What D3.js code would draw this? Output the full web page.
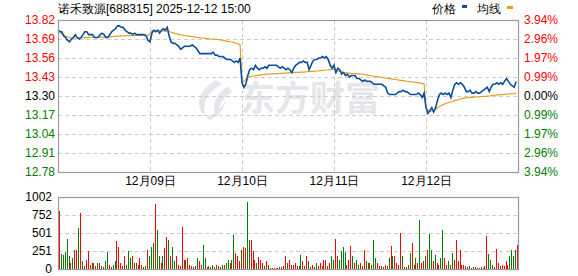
<!DOCTYPE html>
<html><head><meta charset="utf-8">
<script src="https://cdn.jsdelivr.net/npm/d3@7"></script>
<style>
html,body{margin:0;padding:0;background:#fff;}
svg{display:block;font-family:"Liberation Sans",Arial,sans-serif;}
</style></head>
<body>
<svg id="c" width="578" height="276"></svg>
<script>
const title = "诺禾致源[688315] 2025-12-12 15:00";
const legendNames = ["价格", "均线"];
const dayLabels = ["12月09日", "12月10日", "12月11日", "12月12日"];
const priceTicks = [13.82, 13.69, 13.56, 13.43, 13.30, 13.17, 13.04, 12.91, 12.78];
const pctTicks = ["3.94%", "2.96%", "1.97%", "0.99%", "0.00%", "0.99%", "1.97%", "2.96%", "3.94%"];
const volTicks = [0, 251, 501, 752, 1002];
const prevClose = 13.30;
const pointsPerDay = 48;

const price = [
 13.75,13.74,13.74,13.71,13.70,13.68,13.67,13.69,13.70,13.72,13.70,13.69,13.70,13.72,13.74,13.74,13.72,13.72,13.72,13.70,13.70,13.70,13.72,13.73,13.72,13.70,13.70,13.72,13.74,13.75,13.76,13.78,13.78,13.77,13.77,13.75,13.74,13.73,13.73,13.72,13.73,13.72,13.72,13.72,13.72,13.72,13.71,13.68,
 13.67,13.73,13.75,13.74,13.75,13.73,13.75,13.76,13.75,13.77,13.71,13.67,13.66,13.66,13.65,13.64,13.62,13.63,13.64,13.64,13.64,13.64,13.65,13.64,13.63,13.61,13.59,13.59,13.59,13.59,13.59,13.59,13.59,13.60,13.58,13.58,13.57,13.57,13.57,13.56,13.55,13.55,13.55,13.54,13.53,13.54,13.53,13.56,
 13.39,13.36,13.38,13.44,13.48,13.49,13.48,13.51,13.49,13.48,13.49,13.49,13.50,13.49,13.51,13.51,13.51,13.51,13.51,13.50,13.49,13.50,13.49,13.48,13.49,13.48,13.46,13.49,13.51,13.52,13.53,13.53,13.54,13.53,13.53,13.48,13.51,13.54,13.55,13.55,13.56,13.56,13.57,13.56,13.57,13.55,13.51,13.49,
 13.51,13.46,13.49,13.48,13.45,13.46,13.44,13.45,13.43,13.44,13.44,13.44,13.42,13.42,13.41,13.40,13.41,13.40,13.40,13.40,13.39,13.38,13.38,13.38,13.38,13.38,13.37,13.36,13.32,13.31,13.31,13.31,13.31,13.32,13.33,13.33,13.34,13.33,13.33,13.32,13.31,13.31,13.31,13.31,13.32,13.31,13.29,13.32,
 13.22,13.18,13.20,13.22,13.19,13.22,13.27,13.31,13.32,13.31,13.32,13.31,13.32,13.29,13.34,13.38,13.39,13.38,13.39,13.38,13.36,13.33,13.33,13.34,13.32,13.32,13.33,13.32,13.32,13.33,13.34,13.35,13.36,13.33,13.36,13.38,13.38,13.39,13.38,13.39,13.38,13.40,13.42,13.40,13.38,13.37,13.36,13.40
];

const avgPrice = [
 13.752,13.735,13.725,13.717,13.710,13.704,13.700,13.697,13.697,13.697,13.697,13.697,13.697,13.698,13.699,13.700,13.701,13.702,13.702,13.702,13.702,13.702,13.703,13.703,13.703,13.704,13.704,13.705,13.706,13.707,13.708,13.709,13.710,13.711,13.712,13.712,13.713,13.713,13.713,13.713,13.713,13.714,13.714,13.714,13.714,13.714,13.714,13.714,
 13.730,13.745,13.747,13.747,13.746,13.745,13.745,13.745,13.744,13.743,13.740,13.736,13.732,13.728,13.725,13.722,13.719,13.717,13.714,13.712,13.710,13.708,13.706,13.704,13.702,13.700,13.699,13.697,13.695,13.694,13.692,13.691,13.690,13.689,13.688,13.687,13.685,13.683,13.681,13.679,13.676,13.674,13.671,13.669,13.665,13.661,13.657,13.652,
 13.390,13.400,13.415,13.425,13.432,13.435,13.437,13.439,13.441,13.443,13.445,13.446,13.448,13.449,13.450,13.451,13.452,13.452,13.453,13.454,13.455,13.455,13.456,13.457,13.458,13.458,13.459,13.460,13.461,13.461,13.462,13.463,13.464,13.465,13.466,13.467,13.468,13.469,13.470,13.471,13.472,13.474,13.475,13.476,13.478,13.479,13.481,13.483,
 13.485,13.478,13.472,13.468,13.465,13.462,13.460,13.458,13.457,13.455,13.454,13.453,13.452,13.451,13.450,13.449,13.447,13.444,13.441,13.439,13.437,13.435,13.433,13.431,13.429,13.427,13.425,13.423,13.421,13.419,13.417,13.415,13.413,13.411,13.409,13.407,13.405,13.403,13.401,13.399,13.397,13.396,13.394,13.392,13.390,13.388,13.386,13.384,
 13.220,13.200,13.195,13.197,13.200,13.210,13.220,13.228,13.235,13.241,13.247,13.252,13.256,13.259,13.263,13.268,13.272,13.276,13.280,13.284,13.286,13.288,13.289,13.290,13.291,13.292,13.293,13.294,13.295,13.296,13.297,13.298,13.299,13.300,13.302,13.304,13.306,13.307,13.308,13.309,13.310,13.311,13.312,13.313,13.314,13.315,13.316,13.318
];

const volume = [
 805,210,200,230,414,184,80,150,258,267,566,773,105,40,129,244,50,80,80,40,80,80,40,30,105,240,60,30,50,105,396,313,90,40,175,60,244,152,175,80,80,60,152,60,30,40,258,175,
 313,359,911,543,175,80,175,290,441,405,175,313,105,175,60,40,580,129,129,152,60,40,30,40,152,105,60,336,152,30,40,30,60,30,60,40,30,60,60,80,130,80,130,474,220,175,105,267,
 313,290,934,405,405,244,129,80,165,129,80,40,105,60,20,20,20,20,20,30,30,40,175,80,129,60,50,80,40,40,198,105,40,184,105,30,60,30,80,40,80,40,129,129,40,80,184,129,
 414,175,129,244,313,230,60,129,322,175,80,129,60,80,40,267,105,80,80,60,405,152,80,40,40,30,60,40,152,322,175,175,80,60,497,175,30,30,60,220,359,60,152,80,681,80,105,175,
 267,483,267,105,198,80,60,152,543,152,60,105,60,220,129,405,105,267,60,60,40,30,40,20,30,30,20,20,30,20,40,460,212,129,60,30,285,80,40,60,40,105,60,175,267,184,258,336
];
const volDir = (
 "rgggggrgrr"+"grgrrrrrgr"+"grgrggrrgg"+"rrrrrgggrg"+"rgrrrgrg"+
 "ggrggrgrrg"+"rggrrrrrgr"+"rrgrgrrggr"+"rggrrgrgrg"+"grggrrrg"+
 "rrggrrrgrr"+"rgrgrrrrrr"+"grrgrrrrrg"+"grrrgrrggr"+"rrrrgrgg"+
 "rrggggrrrg"+"rggrrrggrg"+"ggrrrgrrgr"+"grrrrgrgrg"+"rrgrgrrg"+
 "rggrgrrggr"+"rgrgrrrrrr"+"rggrgrgrgr"+"rrgggrrrrr"+"rrrggggr"
).split("");

const svg = d3.select("#c");
const L = 58, R = 518, T = 20, B = 172, VT = 197, VB = 269;
const total = pointsPerDay * 5;
const x = d3.scaleLinear().domain([0, total]).range([L, R]);
const y = d3.scaleLinear().domain([12.78, 13.82]).range([B, T]);
const yv = d3.scaleLinear().domain([0, 1002]).range([VB, VT]);

const RED = "#ff0000", GREEN = "#008000", GRID = "#cccccc", BORDER = "#999999";

svg.append("rect").attr("width", 578).attr("height", 276).attr("fill", "#fff");

// header
svg.append("text").attr("x", 58).attr("y", 13).attr("font-size", 12).attr("fill", "#000").text(title);
svg.append("text").attr("x", 432).attr("y", 13).attr("font-size", 12).attr("fill", "#000").text(legendNames[0]);
svg.append("rect").attr("x", 462).attr("y", 5).attr("width", 5).attr("height", 3).attr("fill", "#0b4fa0");
svg.append("text").attr("x", 477).attr("y", 13).attr("font-size", 12).attr("fill", "#000").text(legendNames[1]);
svg.append("rect").attr("x", 507).attr("y", 6).attr("width", 6).attr("height", 3).attr("fill", "#e0a020");

// watermark
const wm = svg.append("g").attr("fill", "#e6e6ea");
wm.append("path").attr("d", "M216,80 C198,90 194,106 206,118 C202,104 206,92 222,84 Z");
wm.append("path").attr("d", "M228,86 C214,96 210,108 218,118 C218,106 222,98 232,92 Z");
wm.append("path").attr("d", "M206,118 C214,114 222,108 226,100 C224,110 218,116 210,120 Z");
wm.append("text").attr("x", 240).attr("y", 111).attr("font-size", 35).attr("font-weight", "bold")
  .attr("font-family", "'Noto Sans CJK SC',sans-serif").text("东方财富");

// price grid
const grid = svg.append("g").attr("stroke", GRID).attr("stroke-dasharray", "4,3").attr("shape-rendering", "crispEdges");
priceTicks.slice(1, -1).forEach(p => {
  grid.append("line").attr("x1", L).attr("x2", R).attr("y1", Math.round(y(p)) + 0.5).attr("y2", Math.round(y(p)) + 0.5);
});
for (let d = 1; d < 5; d++) {
  const xx = Math.round(x(d * pointsPerDay)) + 0.5;
  grid.append("line").attr("x1", xx).attr("x2", xx).attr("y1", T).attr("y2", B);
}
volTicks.slice(1, -1).forEach(v => {
  grid.append("line").attr("x1", L).attr("x2", R).attr("y1", Math.round(yv(v)) + 0.5).attr("y2", Math.round(yv(v)) + 0.5);
});

// lines
const line = d3.line().x((d, i) => x(i)).y(d => y(d));
svg.append("path").datum(avgPrice).attr("d", line).attr("fill", "none").attr("stroke", "#e0a020").attr("stroke-width", 1.2);
svg.append("path").datum(price).attr("d", line).attr("fill", "none").attr("stroke", "#0b4fa0").attr("stroke-width", 1.6);

// volume bars
svg.append("g").attr("shape-rendering", "crispEdges").selectAll("rect").data(volume).join("rect")
  .attr("x", (d, i) => Math.round(x(i + 0.5)))
  .attr("width", 1)
  .attr("y", d => yv(d))
  .attr("height", d => VB - yv(d))
  .attr("fill", (d, i) => volDir[i] === "r" ? RED : GREEN);

// borders
svg.append("rect").attr("x", L + 0.5).attr("y", T + 0.5).attr("width", R - L).attr("height", B - T)
  .attr("fill", "none").attr("stroke", BORDER).attr("stroke-width", 1.2);
svg.append("rect").attr("x", L + 0.5).attr("y", VT + 0.5).attr("width", R - L).attr("height", VB - VT)
  .attr("fill", "none").attr("stroke", BORDER).attr("stroke-width", 1.2);

// axes
const colorFor = p => Math.abs(p - prevClose) < 1e-6 ? "#000" : (p > prevClose ? RED : GREEN);
const ax = svg.append("g").attr("transform", `translate(${L - 3},0)`)
  .call(d3.axisLeft(y).tickValues(priceTicks).tickSize(0).tickPadding(0).tickFormat(d3.format(".2f")));
ax.select(".domain").remove();
ax.selectAll("text").attr("font-size", 12).attr("font-family", "Liberation Sans, Arial, sans-serif")
  .attr("fill", d => colorFor(d));

const ay = svg.append("g").attr("transform", `translate(${R + 6},0)`)
  .call(d3.axisRight(y).tickValues(priceTicks).tickSize(0).tickPadding(0).tickFormat((d, i) => pctTicks[i]));
ay.select(".domain").remove();
ay.selectAll("text").attr("font-size", 12).attr("font-family", "Liberation Sans, Arial, sans-serif")
  .attr("fill", d => colorFor(d));

const axv = svg.append("g").attr("transform", `translate(${L - 6},0)`)
  .call(d3.axisLeft(yv).tickValues(volTicks).tickSize(0).tickPadding(0).tickFormat(d3.format("d")));
axv.select(".domain").remove();
axv.selectAll("text").attr("font-size", 12).attr("font-family", "Liberation Sans, Arial, sans-serif").attr("fill", "#000");

const axx = svg.append("g").attr("transform", `translate(0,${B + 4})`)
  .call(d3.axisBottom(x).tickValues([1, 2, 3, 4].map(d => d * pointsPerDay)).tickSize(0).tickPadding(0)
    .tickFormat((d, i) => dayLabels[i]));
axx.select(".domain").remove();
axx.selectAll("text").attr("font-size", 12).attr("font-family", "Liberation Sans, Arial, sans-serif").attr("fill", "#000");
</script>
</body></html>
